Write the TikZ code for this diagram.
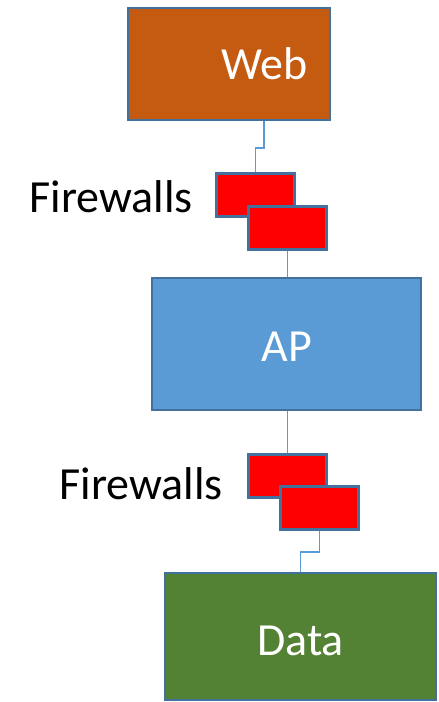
\documentclass[tikz,border=0pt]{standalone}
\usepackage{fontspec}
\usetikzlibrary{calc}
\setmainfont{Carlito}
\definecolor{webfill}{HTML}{C55A11}
\definecolor{apfill}{HTML}{5B9BD5}
\definecolor{datafill}{HTML}{548235}
\definecolor{edge}{HTML}{41719C}
\definecolor{link}{HTML}{5B9BD5}
\begin{document}
\begin{tikzpicture}[x=1pt,y=-1pt,
  tier/.style={draw=edge,line width=2pt,inner sep=0pt},
  tiertext/.style={anchor=base,inner sep=0pt,text=white,font=\fontsize{46}{50}\selectfont},
  fwbox/.style={draw=edge,line width=3pt,fill=red,minimum width=78pt,minimum height=43pt,inner sep=0pt},
  lbl/.style={anchor=base east,inner sep=0pt,font=\fontsize{46}{50}\selectfont},
  conn/.style={draw=link,line width=1.5pt}]
\useasboundingbox (0,0) rectangle (439,702);
\node[tier,fill=webfill,minimum width=202pt,minimum height=112pt] (web) at (229,64) {};
\node[tier,fill=apfill,minimum width=269pt,minimum height=132pt] (ap) at (286.5,344) {};
\node[tier,fill=datafill,minimum width=271pt,minimum height=127pt] (data) at (300.5,636.5) {};
\node[tiertext] (tweb) at ($(web.center)+(35.5,15)$) {Web};
\node[tiertext] (tap) at ($(ap.center)+(0.5,17)$) {AP};
\node[tiertext] (tdata) at ($(data.center)+(0,18.5)$) {Data};
\node[fwbox] (fw1) at (255.5,195) {};
\node[fwbox] (fw2) at (287.5,227.5) {};
\node[fwbox] (fw3) at (287.5,476) {};
\node[fwbox] (fw4) at (319.5,508) {};
\node[lbl] (l1) at ($(fw1.west)+(-22,17)$) {Firewalls};
\node[lbl] (l2) at ($(fw3.west)+(-24,23)$) {Firewalls};
\draw[conn] ([xshift=35pt]web.south) -- ++(0,27) -| (fw1.north);
\draw[conn] (fw2.south) -- (fw2.south |- ap.north);
\draw[conn] (fw3.north |- ap.south) -- (fw3.north);
\draw[conn] (fw4.south) -- ++(0,21) -| (data.north);
\end{tikzpicture}
\end{document}
